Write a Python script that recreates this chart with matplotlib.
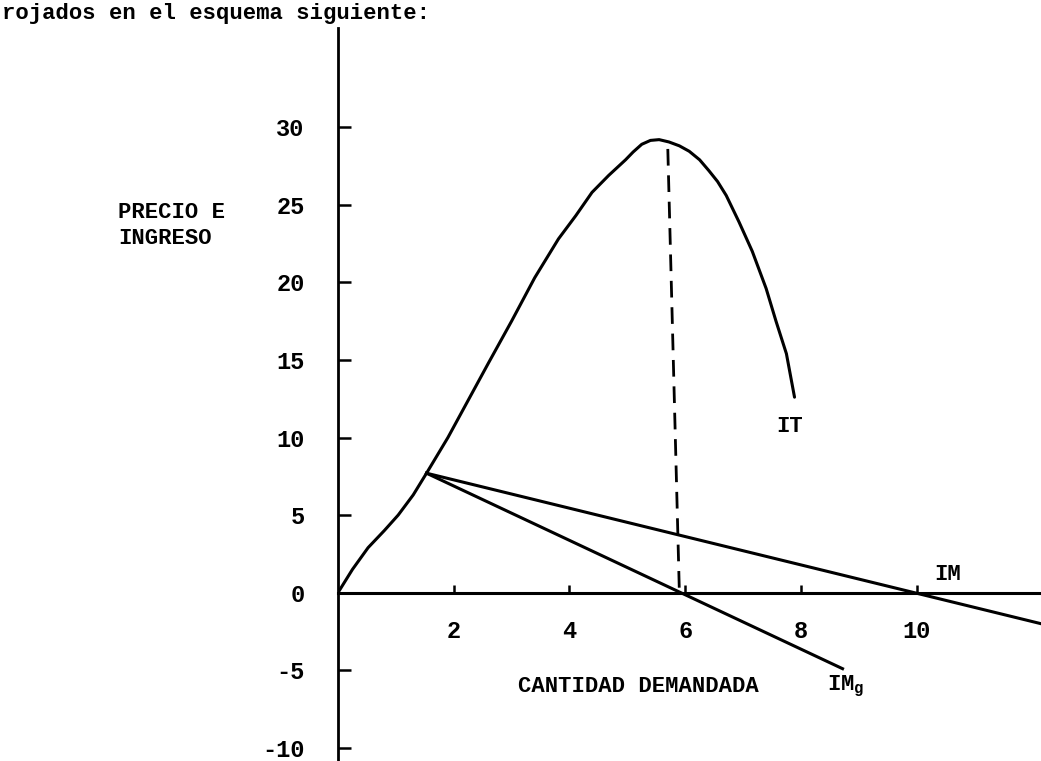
import matplotlib
matplotlib.use('Agg')
import matplotlib.pyplot as plt

# ingreso total (IT)
it_x = [0, 0.25, 0.52, 0.8, 1.04, 1.3, 1.53, 1.9, 2.25, 2.6, 3.0, 3.4, 3.81,
        4.11, 4.39, 4.68, 4.97, 5.1, 5.25, 5.4, 5.55, 5.72, 5.9, 6.07, 6.25,
        6.41, 6.56, 6.71, 6.93, 7.16, 7.40, 7.57, 7.75, 7.89]
it_y = [0, 1.5, 2.9, 4.0, 5.0, 6.3, 7.7, 10.0, 12.4, 14.8, 17.5, 20.3, 22.8,
        24.3, 25.8, 26.9, 27.9, 28.4, 28.9, 29.15, 29.2, 29.05, 28.8, 28.45, 27.9,
        27.2, 26.5, 25.6, 23.9, 22.0, 19.6, 17.5, 15.4, 12.6]

# ingreso medio (IM) e ingreso marginal (IMg)
im_x = [1.53, 12.15]
im_y = [7.7, -2.0]
img_x = [1.53, 8.72]
img_y = [7.7, -4.9]

# cantidad del ingreso total maximo
max_x = [5.7, 5.9]
max_y = [28.6, 0]

xticks = [2, 4, 6, 8, 10]
yticks = [-10, -5, 0, 5, 10, 15, 20, 25, 30]

FONT = 'Liberation Mono'
plt.rcParams['font.family'] = FONT

W, H = 1041, 761
fig = plt.figure(figsize=(W / 100, H / 100), dpi=100)
ax = fig.add_axes([338 / W, 0, (W - 338) / W, 1])
ax.set_xlim(0, 12.15)
ax.set_ylim(-10.85, 38.2)

ax.plot(it_x, it_y, color='black', lw=2.2, solid_joinstyle='round',
        solid_capstyle='round')
ax.plot(im_x, im_y, color='black', lw=2.2)
ax.plot(img_x, img_y, color='black', lw=2.2)
ax.plot(max_x, max_y, color='black', lw=2.0, dashes=(6, 3.5))

# ejes cruzando en el origen
for side in ['top', 'right']:
    ax.spines[side].set_visible(False)
ax.spines['left'].set_position(('data', 0))
ax.spines['bottom'].set_position(('data', 0))
ax.spines['left'].set_bounds(-10.85, 36.4)
ax.spines['left'].set_linewidth(2.0)
ax.spines['bottom'].set_linewidth(2.2)

ax.set_xticks(xticks)
ax.set_yticks(yticks)
ax.set_xticklabels([str(v) for v in xticks])
ax.set_yticklabels([str(v) for v in yticks])
ax.tick_params(axis='x', direction='in', length=6, width=1.8, pad=20,
               labelsize=17)
ax.tick_params(axis='y', direction='in', length=9, width=1.8, pad=24,
               labelsize=17)
for lab in ax.get_xticklabels() + ax.get_yticklabels():
    lab.set_fontweight('bold')

tk = dict(fontsize=16, fontweight='bold', color='black')
ax.text(7.8, 10.7, 'IT', ha='center', va='center', **tk)
ax.text(10.54, 1.2, 'IM', ha='center', va='center', **tk)
ax.text(8.45, -6.05, r'IM$_\mathregular{g}$', ha='left', va='center', **tk)
ax.text(5.2, -6.05, 'CANTIDAD DEMANDADA', ha='center', va='center', **tk)

fig.text(118 / W, 1 - 212 / H, 'PRECIO E', ha='left', va='center', **tk)
fig.text(118 / W, 1 - 238 / H, 'INGRESO', ha='left', va='center', **tk)

fig.text(2 / W, 1 - 19 / H, 'rojados en el esquema siguiente:',
         ha='left', va='baseline', fontsize=16, fontweight='bold')

fig.savefig('out.png', dpi=100, facecolor='white')
